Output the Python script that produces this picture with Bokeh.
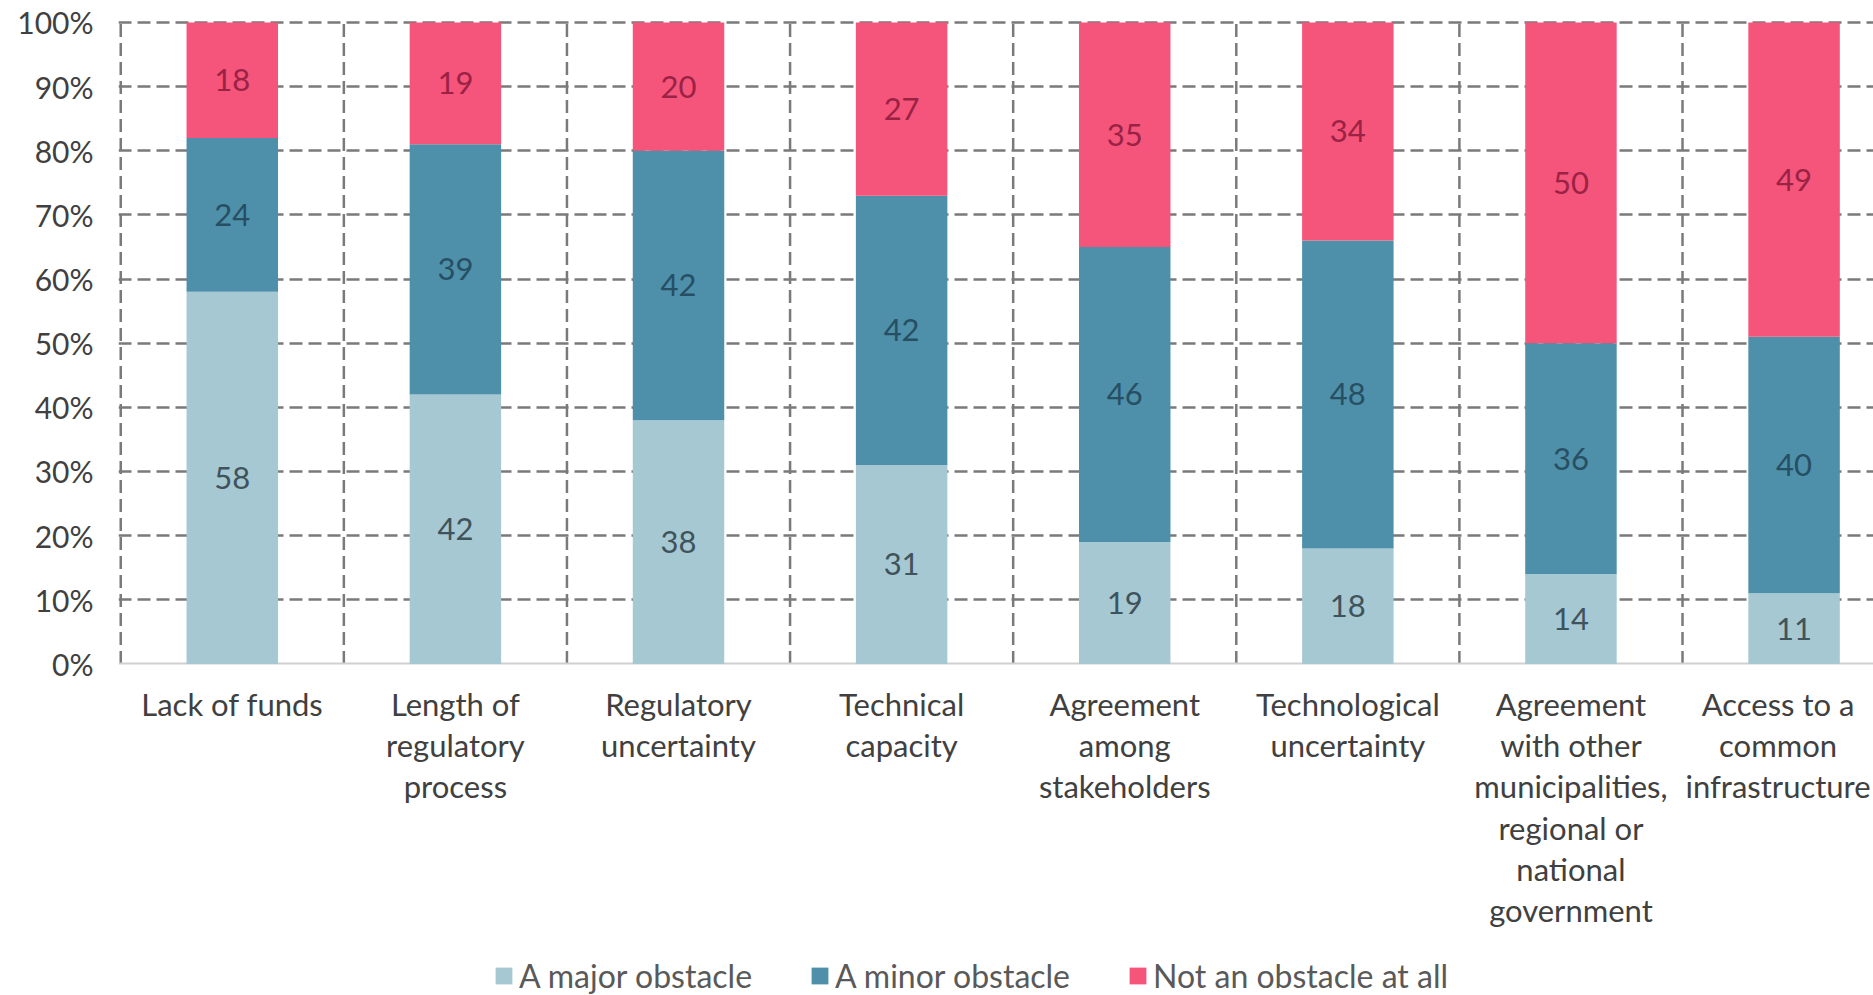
from bokeh.plotting import figure
from bokeh.models import (Range1d, FixedTicker, ColumnDataSource, Legend, LegendItem,
                          PrintfTickFormatter)
from bokeh.embed import file_html
from bokeh.resources import INLINE
from bokeh.core.properties import value

categories = [
    "Lack of funds",
    "Length of\nregulatory\nprocess",
    "Regulatory\nuncertainty",
    "Technical\ncapacity",
    "Agreement\namong\nstakeholders",
    "Technological\nuncertainty",
    "Agreement\nwith other\nmunicipalities,\nregional or\nnational\ngovernment",
    "Access to a\ncommon\ninfrastructure",
]
major = [58, 42, 38, 31, 19, 18, 14, 11]
minor = [24, 39, 42, 42, 46, 48, 36, 40]
not_at_all = [18, 19, 20, 27, 35, 34, 50, 49]
series_names = ["A major obstacle", "A minor obstacle", "Not an obstacle at all"]
y_ticks = [0, 10, 20, 30, 40, 50, 60, 70, 80, 90, 100]

colors = ["#A6C8D2", "#4E8FAA", "#F5557A"]
label_colors = ["#3f535c", "#264f63", "#9a2245"]
FONT = "Lato"

n = len(categories)
xs = list(range(n))
src = ColumnDataSource(dict(x=xs, major=major, minor=minor, not_at_all=not_at_all))

p = figure(frame_width=1755, frame_height=975, output_backend="svg", toolbar_location=None,
           x_range=Range1d(-0.51, 7.356), y_range=Range1d(-51.69, 100.3),
           min_border_left=118, min_border_right=0, min_border_top=20, min_border_bottom=0)
p.outline_line_color = None

# grids (horizontal via grid, vertical separators only over the 0-100% band)
p.xgrid.visible = False
p.ygrid.ticker = FixedTicker(ticks=y_ticks[1:])
p.ygrid.grid_line_color = "#7a7a7a"
p.ygrid.grid_line_dash = "13 6"
p.ygrid.grid_line_width = 2.5
bounds = [i - 0.5 for i in range(n + 1)]
p.segment(x0=bounds, y0=[y_ticks[0]] * len(bounds), x1=bounds, y1=[y_ticks[-1]] * len(bounds),
          line_color="#7a7a7a", line_dash="13 6", line_width=2.5)
p.hspan(y=[y_ticks[0]], line_color="#d0d0d0", line_width=2)

renderers = p.vbar_stack(["major", "minor", "not_at_all"], x="x", width=0.41, source=src,
                         color=colors, line_width=0)

# value labels
stacks = [major, minor, not_at_all]
for k, vals in enumerate(stacks):
    base = [sum(s[i] for s in stacks[:k]) for i in range(n)]
    ys = [base[i] + vals[i] / 2 for i in range(n)]
    ls = ColumnDataSource(dict(x=xs, y=ys, t=[str(v) for v in vals]))
    p.text(x="x", y="y", text="t", source=ls, text_align="center", text_baseline="middle",
           text_font=value(FONT), text_font_size="31px", text_color=label_colors[k])

# category labels under the bars (last one nudged so it stays inside the canvas)
label_dx = [0] * (n - 1) + [-16]
cat_src = ColumnDataSource(dict(x=xs, y=[-3.35] * n, t=categories, dx=label_dx))
p.text(x="x", y="y", text="t", source=cat_src, x_offset="dx", text_align="center",
       text_baseline="top", text_font=value(FONT), text_font_size="31px",
       text_color="#404040", text_line_height=1.08)

# y axis
p.yaxis.ticker = FixedTicker(ticks=y_ticks)
p.yaxis.formatter = PrintfTickFormatter(format="%d%%")
p.yaxis.axis_line_color = None
p.yaxis.major_tick_line_color = None
p.yaxis.minor_tick_line_color = None
p.yaxis.major_label_standoff = 19
p.yaxis.major_label_text_font = FONT
p.yaxis.major_label_text_font_size = "30px"
p.yaxis.major_label_text_color = "#404040"
p.xaxis.visible = False

legend = Legend(items=[LegendItem(label=nm, renderers=[r]) for nm, r in zip(series_names, renderers)],
                orientation="horizontal", location=(375, 0),
                label_text_font=FONT, label_text_font_size="32px", label_text_color="#595959",
                glyph_width=21, glyph_height=21, label_standoff=5, spacing=57,
                border_line_color=None, background_fill_alpha=0, padding=0, margin=0)
p.add_layout(legend, "center")

open("out.html", "w").write(file_html(p, INLINE))
